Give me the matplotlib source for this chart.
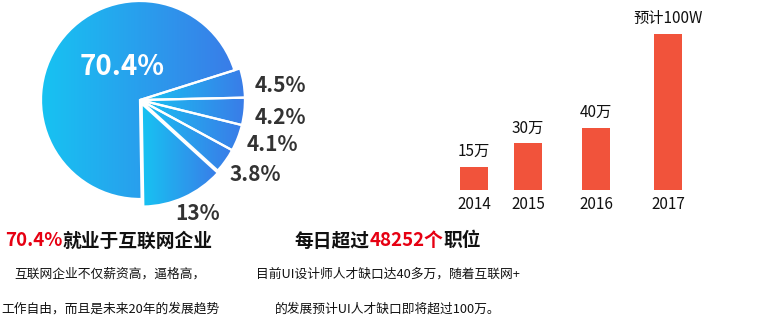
#!/usr/bin/env python3

import matplotlib
matplotlib.use('Agg')
import matplotlib.pyplot as plt
import numpy as np
from matplotlib.colors import LinearSegmentedColormap

# pie: share of UI designers by sector
pie_values = [70.4, 13, 3.8, 4.1, 4.2, 4.5]
pie_labels = ['70.4%', '13%', '3.8%', '4.1%', '4.2%', '4.5%']

# bars: UI designer shortage per year
years = ['2014', '2015', '2016', '2017']
jobs = [15, 30, 40, 100]
bar_labels = ['15万', '30万', '40万', '预计100W']

left_title = [('70.4%', '#e60012'), ('就业于互联网企业', '#111111')]
left_body = ['互联网企业不仅薪资高，逼格高，', '工作自由，而且是未来20年的发展趋势']
right_title = [('每日超过', '#111111'), ('48252个', '#e60012'), ('职位', '#111111')]
right_body = ['目前UI设计师人才缺口达40多万，随着互联网+', '的发展预计UI人才缺口即将超过100万。']

W, H = 767, 328
plt.rcParams['font.family'] = ['Noto Sans CJK SC', 'DejaVu Sans']


def centered_line(fig, x, y, parts, **kw):
    # several coloured pieces of text, centred as one line
    texts = [fig.text(0, y, s, color=c, va='center', ha='left', **kw) for s, c in parts]
    r = fig.canvas.get_renderer()
    widths = [t.get_window_extent(r).width for t in texts]
    pos = x * W - sum(widths) / 2
    for t, w in zip(texts, widths):
        t.set_x(pos / W)
        pos += w


def main():
    fig = plt.figure(figsize=(W / 100, H / 100), dpi=100)

    # ---- pie ----
    half = 1.35 * 99
    cx, cy = 140, H - 100
    ax = fig.add_axes([(cx - half) / W, (cy - half) / H, 2 * half / W, 2 * half / H])
    cmap = LinearSegmentedColormap.from_list('blu', ['#17c3f2', '#3a7ce8'])
    radii = [1.0, 1.04, 1.06, 1.06, 1.06, 1.06]
    explode = [0, 0.04, 0, 0, 0, 0]
    wedges, _ = ax.pie(pie_values, startangle=17.5, explode=explode,
                       wedgeprops=dict(edgecolor='white', linewidth=1.6))
    grad = np.linspace(0, 1, 256).reshape(1, -1)
    for w, r in zip(wedges, radii):
        w.set_radius(r)
        w.set_facecolor('none')
        w.set_zorder(3)
        ext = w.get_path().get_extents()
        im = ax.imshow(grad, cmap=cmap, aspect='auto', zorder=2,
                       extent=[ext.x0, ext.x1, ext.y0, ext.y1])
        im.set_clip_path(w)
    ax.set_xlim(-1.35, 1.35)
    ax.set_ylim(-1.35, 1.35)
    ax.set_aspect('equal')
    ax.axis('off')

    label_xy = [(-0.18, 0.33), (0.58, -1.15), (1.16, -0.75),
                (1.34, -0.45), (1.42, -0.18), (1.42, 0.15)]
    for i, (lab, (x, y)) in enumerate(zip(pie_labels, label_xy)):
        if i == 0:
            ax.text(x, y, lab, color='white', fontsize=20, fontweight='bold',
                    ha='center', va='center', zorder=5)
        else:
            ax.text(x, y, lab, color='#333333', fontsize=15, fontweight='bold',
                    ha='center', va='center', zorder=5)

    # ---- bars ----
    gaps = [0, 1.93, 2.43, 2.57]
    xpos = np.cumsum(gaps)
    bx = fig.add_axes([440 / W, (H - 190) / H, 260 / W, 156 / H])
    bx.bar(xpos, jobs, width=1.0, color='#f1533b')
    bx.set_xlim(-1.214, 8.07)
    bx.set_ylim(0, 100)
    for s in bx.spines.values():
        s.set_visible(False)
    bx.set_yticks([])
    bx.set_xticks(xpos)
    bx.set_xticklabels(years, fontsize=11, color='#111111')
    bx.tick_params(axis='x', length=0, pad=4)
    for x, v, lab in zip(xpos, jobs, bar_labels):
        bx.annotate(lab, (x, v), xytext=(0, 11), textcoords='offset points',
                    ha='center', va='center', fontsize=11, color='#111111',
                    annotation_clip=False)

    # ---- captions ----
    centered_line(fig, 109 / W, 1 - 241 / H, left_title, fontsize=13.5, fontweight='bold')
    centered_line(fig, 388 / W, 1 - 241 / H, right_title, fontsize=13.5, fontweight='bold')
    for i, line in enumerate(left_body):
        fig.text(110 / W, 1 - (274 + 35 * i) / H, line, ha='center', va='center',
                 fontsize=9.2, color='#111111')
    for i, line in enumerate(right_body):
        fig.text(388 / W, 1 - (274 + 35 * i) / H, line, ha='center', va='center',
                 fontsize=9.2, color='#111111')

    fig.savefig('out.png', dpi=100)


if __name__ == "__main__":
    main()
